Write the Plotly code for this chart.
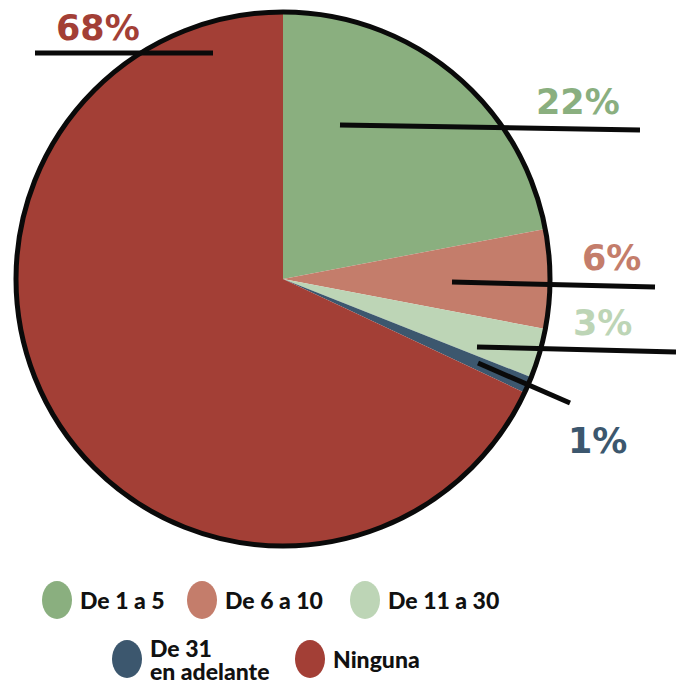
import plotly.graph_objects as go

W, H = 676, 686

labels = ["De 1 a 5", "De 6 a 10", "De 11 a 30", "De 31<br>en adelante", "Ninguna"]
values = [22, 6, 3, 1, 68]
colors = ["#8AAF7F", "#C47D6B", "#BDD5B6", "#3C576E", "#A33F36"]

FONT = "Lato"
PCT_FONT = "DejaVu Sans"
cx, cy, r = 283, 279, 267  # pie centre / radius in px


def px(x):
    return x / W


def py(y):
    return 1 - y / H


fig = go.Figure()
fig.add_trace(go.Pie(
    labels=labels, values=values, sort=False, direction="clockwise", rotation=0,
    marker=dict(colors=colors, line=dict(width=0)), textinfo="none",
    showlegend=False, hoverinfo="label+percent",
    domain=dict(x=[px(cx - r), px(cx + r)], y=[py(cy + r), py(cy - r)]),
))

# outer ring
fig.add_shape(type="circle", xref="paper", yref="paper",
              x0=px(cx - r), x1=px(cx + r), y0=py(cy + r), y1=py(cy - r),
              line=dict(color="#0a0a0a", width=5))

# leader lines (px) and value labels, in order of slices
leaders = [((340, 125), (640, 130)), ((452, 282), (655, 287)), ((477, 347), (676, 352)),
           ((478, 363), (570, 403)), ((35, 53), (213, 53))]
label_pos = [(578, 102), (611, 258), (602, 323), (597, 441), (98, 28)]

for (a, b) in leaders:
    fig.add_shape(type="line", xref="paper", yref="paper",
                  x0=px(a[0]), y0=py(a[1]), x1=px(b[0]), y1=py(b[1]),
                  line=dict(color="#0a0a0a", width=5))
for v, c, (x, y) in zip(values, colors, label_pos):
    fig.add_annotation(xref="paper", yref="paper", x=px(x), y=py(y),
                       text=f"{v}%", showarrow=False, xanchor="center", yanchor="middle",
                       font=dict(family=PCT_FONT, size=35, color=c, weight=700))

# hand-built legend with large ovals
leg_pos = [(57, 600), (202, 600), (365, 600), (127, 659), (310, 659)]
for name, c, (x, y) in zip(labels, colors, leg_pos):
    fig.add_shape(type="circle", xref="paper", yref="paper",
                  x0=px(x - 15), x1=px(x + 15), y0=py(y + 19), y1=py(y - 19),
                  fillcolor=c, line=dict(width=0))
    lines = name.split("<br>")
    step = 23
    y0 = y - step * (len(lines) - 1) / 2
    for i, ln in enumerate(lines):
        fig.add_annotation(xref="paper", yref="paper", x=px(x + 21), y=py(y0 + i * step),
                           text=ln, showarrow=False, xanchor="left", yanchor="middle",
                           font=dict(family=FONT, size=23, color="#111", weight=900))

fig.update_layout(width=W, height=H, margin=dict(l=0, r=0, t=0, b=0),
                  paper_bgcolor="white", plot_bgcolor="white")

fig.write_html("out.html", config={"displayModeBar": False},
               post_script="document.body.style.margin='0px';")
